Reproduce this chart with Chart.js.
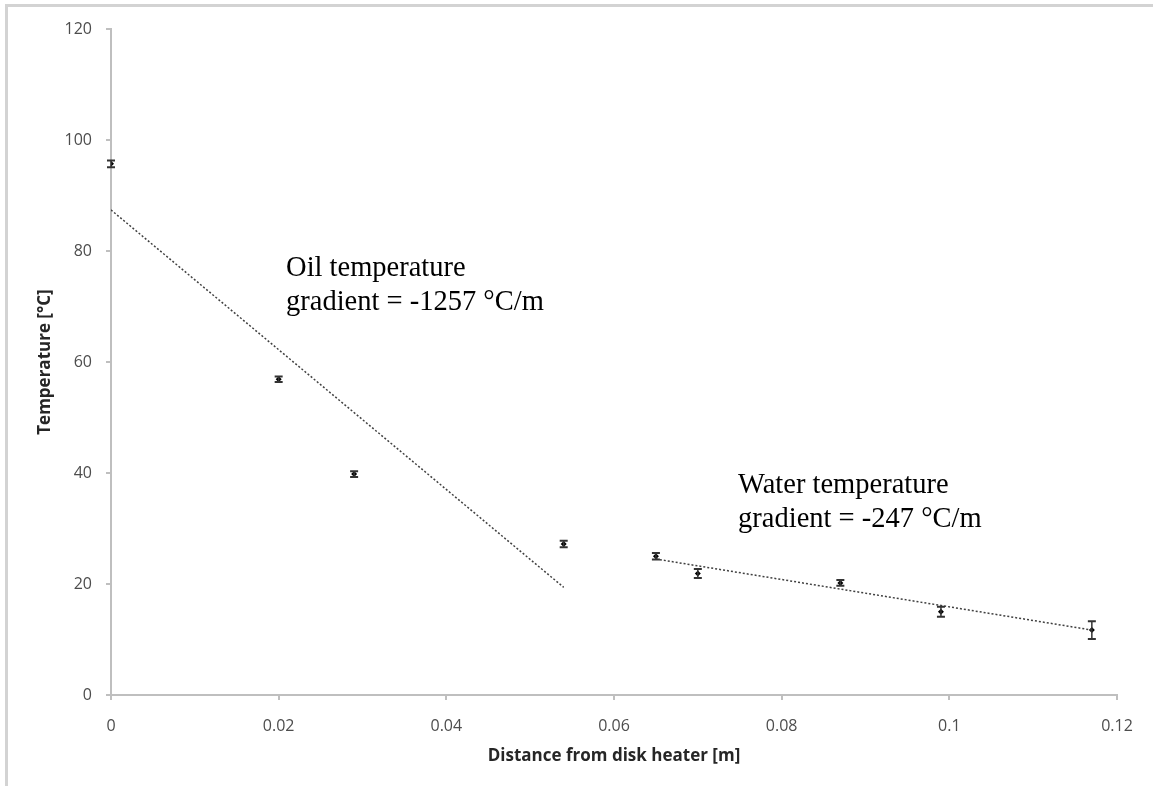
<!DOCTYPE html>
<html>
<head>
<meta charset="utf-8">
<title>Temperature vs distance from disk heater</title>
<script src="https://cdn.jsdelivr.net/npm/chart.js@4.4.0/dist/chart.umd.min.js"></script>
<style>
    html, body { margin: 0; padding: 0; background: #fff; }
    #wrap { position: relative; width: 1153px; height: 786px; overflow: hidden; }
    #grafico { position: absolute; left: 0; top: 0; }
    #moldura {
        position: absolute; left: 5px; top: 4px; width: 1200px; height: 900px;
        border-top: 3px solid #d3d3d3; border-left: 3px solid #d3d3d3;
        pointer-events: none;
    }
</style>
</head>
<body>
<div id="wrap">
    <canvas id="grafico" width="1153" height="786"></canvas>
    <div id="moldura"></div>
</div>
<script>
// measured points
const distancias = [0, 0.02, 0.029, 0.054, 0.065, 0.070, 0.087, 0.099, 0.117];
const temperaturas = [95.7, 56.9, 39.8, 27.2, 25.0, 21.9, 20.2, 15.0, 11.7];
const erros = [0.6, 0.5, 0.5, 0.6, 0.6, 0.8, 0.5, 0.9, 1.6];

// trend lines (end points)
const oleoX = [0, 0.054];
const oleoY = [87.4, 19.4];
const aguaX = [0.065, 0.117];
const aguaY = [24.5, 11.7];

// axis ticks
const xTicks = [0, 0.02, 0.04, 0.06, 0.08, 0.1, 0.12];
const xTickLabels = ["0", "0.02", "0.04", "0.06", "0.08", "0.1", "0.12"];
const yTicks = [0, 20, 40, 60, 80, 100, 120];
const yTickLabels = ["0", "20", "40", "60", "80", "100", "120"];

const textoOleo = ["Oil temperature", "gradient = -1257 °C/m"];
const textoAgua = ["Water temperature", "gradient = -247 °C/m"];

const pares = (xs, ys) => xs.map((x, i) => ({ x: x, y: ys[i] }));

const fonteEixo = '"Open Sans", "DejaVu Sans", sans-serif';
const cinzaEixo = "#bfbfbf";

const errorBars = {
    id: "errorBars",
    afterDatasetsDraw(chart) {
        const ctx = chart.ctx;
        const xs = chart.scales.x;
        const ys = chart.scales.y;
        ctx.save();
        ctx.strokeStyle = "#333";
        ctx.lineWidth = 1.5;
        distancias.forEach((d, i) => {
            const px = xs.getPixelForValue(d);
            const topo = ys.getPixelForValue(temperaturas[i] + erros[i]);
            const base = ys.getPixelForValue(temperaturas[i] - erros[i]);
            ctx.beginPath();
            ctx.moveTo(px, topo);
            ctx.lineTo(px, base);
            ctx.stroke();
            ctx.lineWidth = 2;
            ctx.beginPath();
            ctx.moveTo(px - 4, topo);
            ctx.lineTo(px + 4, topo);
            ctx.moveTo(px - 4, base);
            ctx.lineTo(px + 4, base);
            ctx.stroke();
            ctx.lineWidth = 1.5;
        });
        ctx.restore();
    }
};

const rotulos = {
    id: "rotulos",
    afterDraw(chart) {
        const ctx = chart.ctx;
        const xs = chart.scales.x;
        const ys = chart.scales.y;
        ctx.save();
        ctx.font = '28.5px "Liberation Serif", "Times New Roman", serif';
        ctx.fillStyle = "#000";
        ctx.textBaseline = "alphabetic";
        ctx.textAlign = "left";
        const desenha = (linhas, x, y) => {
            const px = xs.getPixelForValue(x);
            const py = ys.getPixelForValue(y);
            linhas.forEach((l, k) => ctx.fillText(l, px, py + k * 34));
        };
        desenha(textoOleo, 0.02088, 75.5);
        desenha(textoAgua, 0.0748, 36.45);
        ctx.restore();
    }
};

const ctx = document.getElementById("grafico").getContext("2d");

new Chart(ctx, {
    type: "scatter",
    data: {
        datasets: [
            {
                label: "Oil trend",
                type: "line",
                data: pares(oleoX, oleoY),
                showLine: true,
                borderColor: "#404040",
                borderWidth: 1.5,
                borderDash: [2, 2],
                pointRadius: 0,
                fill: false
            },
            {
                label: "Water trend",
                type: "line",
                data: pares(aguaX, aguaY),
                showLine: true,
                borderColor: "#404040",
                borderWidth: 1.5,
                borderDash: [2, 2],
                pointRadius: 0,
                fill: false
            },
            {
                label: "Temperature",
                data: pares(distancias, temperaturas),
                pointStyle: "rectRot",
                pointRadius: 3,
                backgroundColor: "#000",
                borderColor: "#000",
                borderWidth: 0
            }
        ]
    },
    options: {
        responsive: false,
        animation: false,
        devicePixelRatio: 1,
        layout: { padding: { left: 0, top: 29, right: 36, bottom: 0 } },
        plugins: {
            legend: { display: false },
            tooltip: { enabled: false }
        },
        scales: {
            x: {
                type: "linear",
                min: 0,
                max: 0.12,
                afterFit: (s) => { s.height = 91; },
                afterBuildTicks: (s) => { s.ticks = xTicks.map(v => ({ value: v })); },
                grid: { drawOnChartArea: false, tickLength: 5, color: cinzaEixo, lineWidth: 2 },
                border: { color: cinzaEixo, width: 2 },
                ticks: {
                    padding: 17,
                    maxRotation: 0,
                    autoSkip: false,
                    color: "#4d4d4d",
                    font: { family: fonteEixo, size: 16 },
                    callback: (v, i) => xTickLabels[i]
                },
                title: {
                    display: true,
                    text: "Distance from disk heater [m]",
                    color: "#262626",
                    font: { family: fonteEixo, size: 17, weight: "bold" },
                    padding: { top: 20, bottom: 20 }
                }
            },
            y: {
                type: "linear",
                min: 0,
                max: 120,
                afterFit: (s) => { s.width = 111; },
                afterBuildTicks: (s) => { s.ticks = yTicks.map(v => ({ value: v })); },
                grid: { drawOnChartArea: false, tickLength: 5, color: cinzaEixo, lineWidth: 2 },
                border: { color: cinzaEixo, width: 2 },
                ticks: {
                    padding: 14,
                    color: "#4d4d4d",
                    font: { family: fonteEixo, size: 16 },
                    callback: (v, i) => yTickLabels[i]
                },
                title: {
                    display: true,
                    text: "Temperature [°C]",
                    color: "#262626",
                    font: { family: fonteEixo, size: 17, weight: "bold" },
                    padding: { top: 35, bottom: 35 }
                }
            }
        }
    },
    plugins: [errorBars, rotulos]
});
</script>
</body>
</html>
